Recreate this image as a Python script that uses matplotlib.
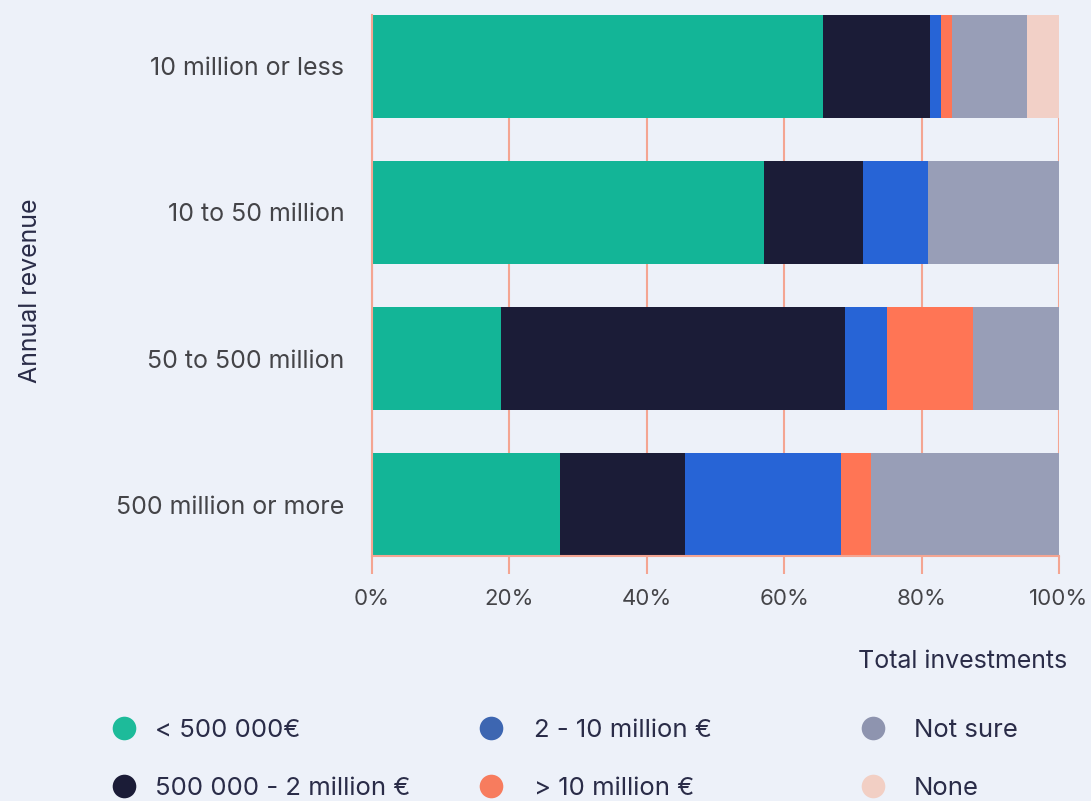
import numpy as np
import matplotlib
matplotlib.use("Agg")
import matplotlib.pyplot as plt
from matplotlib.lines import Line2D

# Data (share of respondents, %)
REVENUE = ["10 million or less", "10 to 50 million", "50 to 500 million", "500 million or more"]
SERIES = ["< 500 000€", "500 000 - 2 million €", "2 - 10 million €",
          "> 10 million €", "Not sure", "None"]
LT_500K = [65.6, 57.1, 18.8, 27.3]
K500_2M = [15.6, 14.3, 50.0, 18.2]
M2_10 = [1.6, 9.5, 6.2, 22.7]
GT_10M = [1.6, 0.0, 12.5, 4.5]
NOT_SURE = [10.9, 19.1, 12.5, 27.3]
NONE = [4.7, 0.0, 0.0, 0.0]
X_TICKS = [0, 20, 40, 60, 80, 100]

BAR_COLORS = ["#13B597", "#1B1C37", "#2764D6", "#FF7555", "#989EB7", "#F2D0C7"]
LEGEND_COLORS = ["#1DBB9A", "#1B1C37", "#3D66B1", "#F77C5E", "#8E94AF", "#F2CFC4"]
BG = "#EDF1F9"
GRID = "#F4A592"
TICK_TXT = "#444448"
NAVY = "#2A2C48"

plt.rcParams['font.family'] = ['Inter', 'DejaVu Sans']

fig = plt.figure(figsize=(10.91, 8.01), dpi=100, facecolor=BG)
ax = fig.add_axes([372 / 1091, 1 - 556 / 801, 687 / 1091, 541 / 801])
ax.set_facecolor(BG)

values = [LT_500K, K500_2M, M2_10, GT_10M, NOT_SURE, NONE]
ypos = np.arange(len(REVENUE))
bar_h = 0.705
left = np.zeros(len(REVENUE))
for vals, name, col in zip(values, SERIES, BAR_COLORS):
    vals = np.array(vals)
    ax.barh(ypos, vals, left=left, height=bar_h, color=col, label=name, zorder=2)
    left += vals

ax.set_ylim(len(REVENUE) - 1 + bar_h / 2, -bar_h / 2)
ax.set_xlim(0, 100)

ax.set_xticks(X_TICKS)
ax.set_xticklabels([f"{t}%" for t in X_TICKS])
ax.set_yticks(ypos)
ax.set_yticklabels(REVENUE)

ax.grid(axis='x', color=GRID, linewidth=1.5, zorder=1)
ax.set_axisbelow(True)
for s in ['top', 'right']:
    ax.spines[s].set_visible(False)
for s in ['left', 'bottom']:
    ax.spines[s].set_color(GRID)
    ax.spines[s].set_linewidth(1.5)
    ax.spines[s].set_zorder(3)

ax.tick_params(axis='x', length=13, width=1.5, color=GRID, labelsize=16,
               labelcolor=TICK_TXT, pad=11)
ax.tick_params(axis='y', length=0, labelsize=18, labelcolor=TICK_TXT, pad=20)

ax.set_xlabel("Total investments", fontsize=18, color=NAVY, ha='right', va='center')
ax.xaxis.set_label_coords((1067 - 372) / 687, (556 - 661) / 541)
ax.set_ylabel("Annual revenue", fontsize=18, color=NAVY, va='center')
ax.yaxis.set_label_coords((31 - 372) / 687, (556 - 291) / 541)

# legend: three columns of two entries
col_x = [98, 465, 847]
text_pad = [0.71, 1.18, 1.10]
for c in range(3):
    handles = [Line2D([], [], marker='o', linestyle='', markersize=17,
                      markerfacecolor=LEGEND_COLORS[i], markeredgecolor='none')
               for i in (2 * c, 2 * c + 1)]
    labels = [SERIES[2 * c], SERIES[2 * c + 1]]
    fig.legend(handles, labels, loc='center left',
               bbox_to_anchor=(col_x[c] / 1091, 1 - 759.5 / 801),
               frameon=False, borderpad=0, handlelength=1.0, handletextpad=text_pad[c],
               labelspacing=1.36, fontsize=18.5, labelcolor=NAVY)

fig.savefig("out.png", dpi=100, facecolor=BG)
